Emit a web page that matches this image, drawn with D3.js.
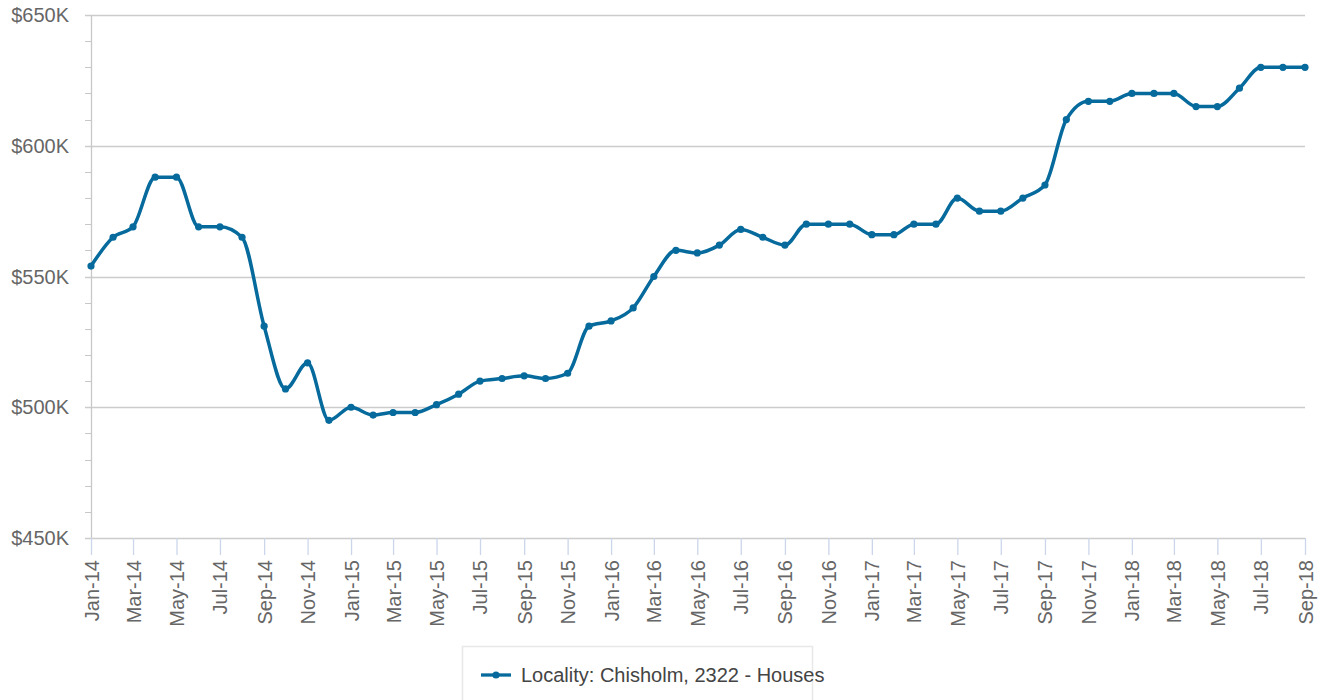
<!DOCTYPE html>
<html>
<head>
<meta charset="utf-8">
<script src="https://cdn.jsdelivr.net/npm/d3@7"></script>
<style>
  body { margin: 0; background: #fff; }
  svg { display: block; font-family: "Liberation Sans", Arial, Helvetica, sans-serif; }
</style>
</head>
<body>
<div id="container"></div>
<script>
// monthly median values, Jan 2014 - Sep 2018 (in $K)
const months = [
  "2014-01","2014-02","2014-03","2014-04","2014-05","2014-06","2014-07","2014-08","2014-09","2014-10","2014-11","2014-12",
  "2015-01","2015-02","2015-03","2015-04","2015-05","2015-06","2015-07","2015-08","2015-09","2015-10","2015-11","2015-12",
  "2016-01","2016-02","2016-03","2016-04","2016-05","2016-06","2016-07","2016-08","2016-09","2016-10","2016-11","2016-12",
  "2017-01","2017-02","2017-03","2017-04","2017-05","2017-06","2017-07","2017-08","2017-09","2017-10","2017-11","2017-12",
  "2018-01","2018-02","2018-03","2018-04","2018-05","2018-06","2018-07","2018-08","2018-09"
];
const values = [
  554, 565, 569, 588, 588, 569, 569, 565, 531, 507, 517, 495,
  500, 497, 498, 498, 501, 505, 510, 511, 512, 511, 513, 531,
  533, 538, 550, 560, 559, 562, 568, 565, 562, 570, 570, 570,
  566, 566, 570, 570, 580, 575, 575, 580, 585, 610, 617, 617,
  620, 620, 620, 615, 615, 622, 630, 630, 630
];
const yTicks = [450, 500, 550, 600, 650];
const seriesName = "Locality: Chisholm, 2322 - Houses";

const W = 1321, H = 700;
const plotLeft = 91, plotRight = 1305, plotTop = 15, plotBottom = 538;
const lineColor = "#066a9c";

const parse = d3.timeParse("%Y-%m");
const data = months.map((m, i) => ({ date: parse(m), value: values[i] }));

const xScale = d3.scaleTime()
  .domain(d3.extent(data, d => d.date))
  .range([plotLeft, plotRight]);
const yScale = d3.scaleLinear()
  .domain([450, 650])
  .range([plotBottom, plotTop]);

const svg = d3.select("div#container")
  .append("svg")
  .attr("width", W)
  .attr("height", H);

// minor ticks on y axis (every 10K)
svg.append("g")
  .selectAll("line")
  .data(d3.range(450, 651, 10))
  .enter()
  .append("line")
  .attr("x1", plotLeft - 6)
  .attr("x2", plotLeft)
  .attr("y1", d => Math.round(yScale(d)) + 0.5)
  .attr("y2", d => Math.round(yScale(d)) + 0.5)
  .attr("stroke", "#c8c8c8")
  .attr("stroke-width", 1);

// gridlines
svg.append("g")
  .selectAll("line")
  .data(yTicks)
  .enter()
  .append("line")
  .attr("x1", plotLeft - 6)
  .attr("x2", plotRight)
  .attr("y1", d => Math.round(yScale(d)) + 0.5)
  .attr("y2", d => Math.round(yScale(d)) + 0.5)
  .attr("stroke", "#cccccc")
  .attr("stroke-width", 1.3);

// y axis line
svg.append("line")
  .attr("x1", plotLeft + 0.5).attr("x2", plotLeft + 0.5)
  .attr("y1", plotTop).attr("y2", plotBottom)
  .attr("stroke", "#c8c8c8")
  .attr("stroke-width", 1.3);

// y labels
svg.append("g")
  .selectAll("text")
  .data(yTicks)
  .enter()
  .append("text")
  .attr("x", 69)
  .attr("y", d => yScale(d))
  .attr("dy", "0.35em")
  .attr("text-anchor", "end")
  .attr("fill", "#666")
  .style("font-size", "20px")
  .text(d => "$" + d + "K");

// x axis
const xAxis = d3.axisBottom(xScale)
  .ticks(d3.timeMonth.every(2))
  .tickFormat(d3.timeFormat("%b-%y"))
  .tickSize(17)
  .tickSizeOuter(0);

const gx = svg.append("g")
  .attr("id", "x-axis")
  .attr("transform", "translate(0," + plotBottom + ")")
  .call(xAxis);
gx.select(".domain").remove();
gx.selectAll(".tick line")
  .attr("stroke", "#ccd6eb")
  .attr("stroke-width", 1.3);
gx.selectAll(".tick text")
  .attr("fill", "#666")
  .style("font-size", "20px")
  .attr("transform", "rotate(-90)")
  .attr("text-anchor", "end")
  .attr("x", -22)
  .attr("y", 0)
  .attr("dy", "0.35em");

// series line
const line = d3.line()
  .x(d => xScale(d.date))
  .y(d => yScale(d.value))
  .curve(d3.curveMonotoneX);

svg.append("path")
  .datum(data)
  .attr("d", line)
  .attr("fill", "none")
  .attr("stroke", lineColor)
  .attr("stroke-width", 3.5)
  .attr("stroke-linejoin", "round");

svg.append("g")
  .selectAll("circle")
  .data(data)
  .enter()
  .append("circle")
  .attr("cx", d => xScale(d.date))
  .attr("cy", d => yScale(d.value))
  .attr("r", 3.6)
  .attr("fill", lineColor);

// legend
const legend = svg.append("g").attr("id", "legend");
legend.append("rect")
  .attr("x", 462.5).attr("y", 646.5)
  .attr("width", 350).attr("height", 70)
  .attr("fill", "#fff")
  .attr("stroke", "#e8e8e8")
  .attr("stroke-width", 1.5);
legend.append("line")
  .attr("x1", 481).attr("x2", 511)
  .attr("y1", 675).attr("y2", 675)
  .attr("stroke", lineColor)
  .attr("stroke-width", 3.3);
legend.append("circle")
  .attr("cx", 496).attr("cy", 675).attr("r", 3.6)
  .attr("fill", lineColor);
legend.append("text")
  .attr("x", 521).attr("y", 682)
  .attr("fill", "#444")
  .style("font-size", "20px")
  .text(seriesName);
</script>
</body>
</html>
